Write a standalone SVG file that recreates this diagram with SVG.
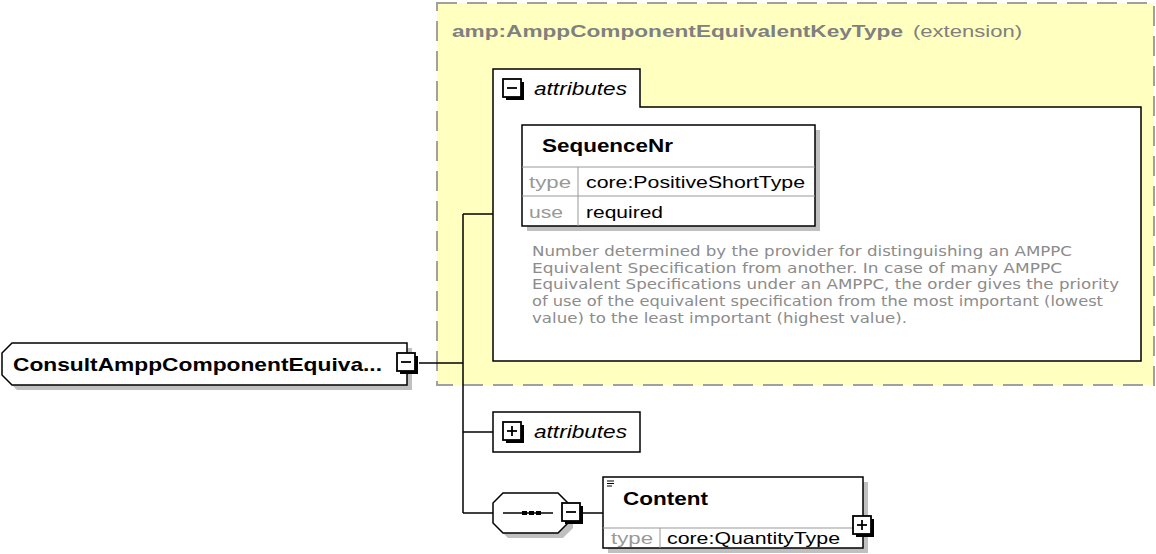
<svg xmlns="http://www.w3.org/2000/svg" width="1156" height="554" viewBox="0 0 1156 554">
<style>
.line{stroke:#000;stroke-width:1.5;fill:none}
.box{fill:#fff;stroke:#000;stroke-width:1.5}
.shadow{fill:#c0c0c0}
.sep{stroke:#999;stroke-width:1}
.t{font-family:"Liberation Sans",Arial,sans-serif;fill:#000}
.b{font-weight:bold}
.g{fill:#999}
.i{font-style:italic}
.d{font-family:"DejaVu Sans",Verdana,sans-serif;font-size:14px;fill:#8c8c8c}
</style>
<defs>
<g id="btnMinus"><rect x="3" y="3" width="18" height="18" fill="#000"/><rect x="0" y="0" width="18" height="18" fill="#fff" stroke="#000" stroke-width="1.8"/><line x1="4" y1="9" x2="14" y2="9" stroke="#000" stroke-width="1.8"/></g>
<g id="btnPlus"><rect x="3" y="3" width="18" height="18" fill="#000"/><rect x="0" y="0" width="18" height="18" fill="#fff" stroke="#000" stroke-width="1.8"/><line x1="4" y1="9" x2="14" y2="9" stroke="#000" stroke-width="1.8"/><line x1="9" y1="4" x2="9" y2="14" stroke="#000" stroke-width="1.8"/></g>
</defs>
<rect width="1156" height="554" fill="#fff"/>

<g id="ext">
<rect x="437" y="3" width="717" height="382" fill="#ffffc0" stroke="#a0a0a0" stroke-width="2" stroke-dasharray="20,10"/>
<text class="t b" x="452" y="37" font-size="17" style="fill:#808080" textLength="451" lengthAdjust="spacingAndGlyphs">amp:AmppComponentEquivalentKeyType</text>
<text class="t" x="913" y="37" font-size="17" style="fill:#808080" textLength="109" lengthAdjust="spacingAndGlyphs">(extension)</text>
</g>

<g id="connectors">
<line class="line" x1="419" y1="363" x2="463" y2="363"/>
<line class="line" x1="463" y1="214" x2="463" y2="513"/>
<line class="line" x1="463" y1="214" x2="493" y2="214"/>
<line class="line" x1="463" y1="432" x2="493" y2="432"/>
<line class="line" x1="463" y1="513" x2="493" y2="513"/>
<line class="line" x1="581" y1="513" x2="603" y2="513"/>
</g>

<g id="attrs1">
<path class="box" d="M493,69 H640 V107 H1141 V361 H493 Z"/>
<use href="#btnMinus" x="503" y="79"/>
<text class="t i" x="534" y="95" font-size="18" textLength="93" lengthAdjust="spacingAndGlyphs">attributes</text>
</g>

<g id="seqnr">
<rect class="shadow" x="527" y="130" width="293" height="101"/>
<rect class="box" x="522" y="125" width="293" height="101"/>
<line class="sep" x1="522" y1="167" x2="815" y2="167"/>
<line class="sep" x1="522" y1="196" x2="815" y2="196"/>
<line class="sep" x1="578" y1="167" x2="578" y2="226"/>
<text class="t b" x="542" y="152" font-size="18" textLength="131" lengthAdjust="spacingAndGlyphs">SequenceNr</text>
<text class="t g" x="529" y="188" font-size="17" style="fill:#999" textLength="42" lengthAdjust="spacingAndGlyphs">type</text>
<text class="t" x="586" y="188" font-size="17" textLength="219" lengthAdjust="spacingAndGlyphs">core:PositiveShortType</text>
<text class="t g" x="529" y="218" font-size="17" style="fill:#999" textLength="34" lengthAdjust="spacingAndGlyphs">use</text>
<text class="t" x="586" y="218" font-size="17" textLength="77" lengthAdjust="spacingAndGlyphs">required</text>
<text class="d" x="532" y="256" textLength="540" lengthAdjust="spacingAndGlyphs">Number determined by the provider for distinguishing an AMPPC</text>
<text class="d" x="532" y="273" textLength="530" lengthAdjust="spacingAndGlyphs">Equivalent Specification from another. In case of many AMPPC</text>
<text class="d" x="532" y="289" textLength="587" lengthAdjust="spacingAndGlyphs">Equivalent Specifications under an AMPPC, the order gives the priority</text>
<text class="d" x="532" y="306" textLength="571" lengthAdjust="spacingAndGlyphs">of use of the equivalent specification from the most important (lowest</text>
<text class="d" x="532" y="323" textLength="375" lengthAdjust="spacingAndGlyphs">value) to the least important (highest value).</text>
</g>

<g id="root">
<path class="shadow" d="M17,348 H412 V390 H17 L7,380 V358 Z"/>
<path class="box" d="M12,343 H407 V385 H12 L2,375 V353 Z"/>
<text class="t b" x="13" y="371" font-size="19" textLength="369" lengthAdjust="spacingAndGlyphs">ConsultAmppComponentEquiva...</text>
<use href="#btnMinus" x="397" y="353"/>
</g>

<g id="attrs2">
<rect class="box" x="493" y="412" width="147" height="40"/>
<use href="#btnPlus" x="503" y="422"/>
<text class="t i" x="534" y="438" font-size="18" textLength="93" lengthAdjust="spacingAndGlyphs">attributes</text>
</g>

<g id="sequence">
<path class="shadow" d="M508,498 H563 L573,508 V528 L563,538 H508 L498,528 V508 Z"/>
<path class="box" d="M503,493 H558 L568,503 V523 L558,533 H503 L493,523 V503 Z"/>
<line class="line" x1="503" y1="513" x2="553" y2="513"/>
<rect x="522" y="511" width="5" height="4" fill="#000"/>
<rect x="529" y="511" width="5" height="4" fill="#000"/>
<rect x="536" y="511" width="5" height="4" fill="#000"/>
<use href="#btnMinus" x="562" y="503"/>
</g>

<g id="content">
<rect class="shadow" x="608" y="482" width="260" height="71"/>
<rect class="box" x="603" y="477" width="260" height="71"/>
<line class="sep" x1="603" y1="528" x2="863" y2="528"/>
<line class="sep" x1="660" y1="528" x2="660" y2="548"/>
<line x1="607" y1="481" x2="614" y2="481" stroke="#000" stroke-width="1"/>
<line x1="607" y1="483.5" x2="614" y2="483.5" stroke="#000" stroke-width="1"/>
<line x1="607" y1="486" x2="612" y2="486" stroke="#000" stroke-width="1"/>
<text class="t b" x="623" y="505" font-size="19" textLength="85" lengthAdjust="spacingAndGlyphs">Content</text>
<text class="t g" x="611" y="544" font-size="17" style="fill:#999" textLength="42" lengthAdjust="spacingAndGlyphs">type</text>
<text class="t" x="667" y="544" font-size="17" textLength="173" lengthAdjust="spacingAndGlyphs">core:QuantityType</text>
<use href="#btnPlus" x="853" y="516"/>
</g>
</svg>
